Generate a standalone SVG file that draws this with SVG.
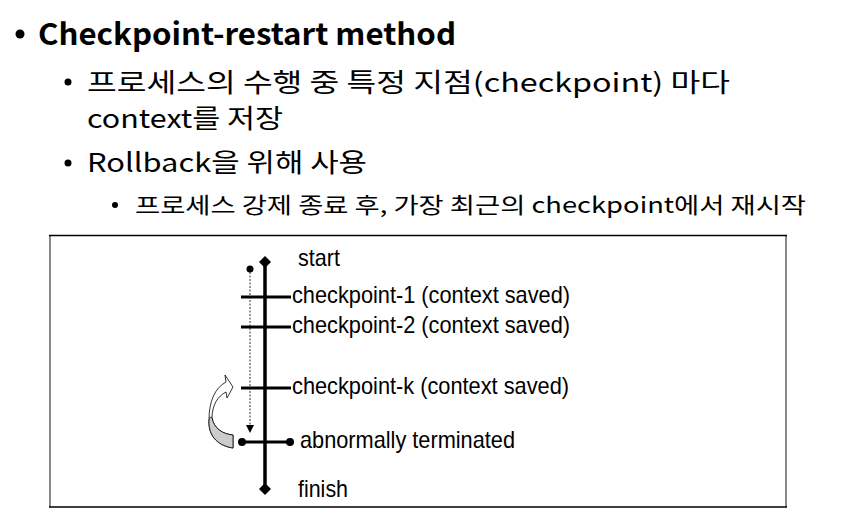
<svg xmlns="http://www.w3.org/2000/svg" width="851" height="515" viewBox="0 0 851 515">
  <style>
    .kr { font-family: "Noto Sans CJK KR", "Open Sans", sans-serif; fill: #000; }
    .lbl { font-family: "Liberation Sans", Arial, sans-serif; font-size: 24px; fill: #000; }
    .tl { stroke: #000; stroke-width: 3.5; fill: none; }
    .tick { stroke: #000; stroke-width: 3; }
    .dot { fill: #000; }
  </style>

  <rect width="851" height="515" fill="#fff"/>

  <!-- bullet text -->
  <g id="bullets">
    <circle cx="20" cy="34" r="4.5" class="dot"/>
    <text x="38" y="45" class="kr" font-size="30" font-weight="bold" textLength="418" lengthAdjust="spacingAndGlyphs">Checkpoint-restart method</text>

    <circle cx="68" cy="82" r="3.5" class="dot"/>
    <text x="87" y="92" class="kr" font-size="26" textLength="643" lengthAdjust="spacingAndGlyphs">프로세스의 수행 중 특정 지점(checkpoint) 마다</text>
    <text x="87" y="128" class="kr" font-size="26" textLength="196" lengthAdjust="spacingAndGlyphs">context를 저장</text>

    <circle cx="68" cy="163" r="3.5" class="dot"/>
    <text x="87" y="172" class="kr" font-size="26" textLength="280" lengthAdjust="spacingAndGlyphs">Rollback을 위해 사용</text>

    <circle cx="115" cy="205" r="3" class="dot"/>
    <text x="135" y="213" class="kr" font-size="22" textLength="671" lengthAdjust="spacingAndGlyphs">프로세스 강제 종료 후, 가장 최근의 checkpoint에서 재시작</text>
  </g>

  <!-- diagram frame -->
  <g id="frame">
    <line x1="50" y1="236" x2="50" y2="507" stroke="#888" stroke-width="2"/>
    <line x1="786" y1="236" x2="786" y2="507" stroke="#888" stroke-width="2"/>
    <line x1="49" y1="235.5" x2="787" y2="235.5" stroke="#000" stroke-width="1.5"/>
    <line x1="49" y1="507" x2="787" y2="507" stroke="#000" stroke-width="1.5"/>
  </g>

  <!-- timeline connectors -->
  <g id="connectors">
    <line x1="265" y1="262" x2="265" y2="489" class="tl"/>
    <line x1="250" y1="272" x2="250" y2="427" stroke="#555" stroke-width="1.2" stroke-dasharray="2,1.5"/>
    <path d="M246,425 L254,425 L250,433 Z" fill="#000"/>
    <line x1="241" y1="297" x2="291" y2="297" class="tick"/>
    <line x1="241" y1="327" x2="291" y2="327" class="tick"/>
    <line x1="241" y1="388" x2="291" y2="388" class="tick"/>
    <line x1="242" y1="442" x2="290" y2="442" class="tick"/>
  </g>

  <!-- timeline nodes -->
  <g id="start">
    <path d="M265,256 L271,262 L265,268 L259,262 Z" class="dot"/>
    <circle cx="250" cy="269" r="3.5" class="dot"/>
    <text x="298" y="266" class="lbl" textLength="42" lengthAdjust="spacingAndGlyphs">start</text>
  </g>
  <g id="checkpoint-1">
    <text x="292" y="303" class="lbl" textLength="278" lengthAdjust="spacingAndGlyphs">checkpoint-1 (context saved)</text>
  </g>
  <g id="checkpoint-2">
    <text x="292" y="333" class="lbl" textLength="278" lengthAdjust="spacingAndGlyphs">checkpoint-2 (context saved)</text>
  </g>
  <g id="checkpoint-k">
    <text x="292" y="394" class="lbl" textLength="277" lengthAdjust="spacingAndGlyphs">checkpoint-k (context saved)</text>
  </g>
  <g id="terminated">
    <circle cx="242" cy="442" r="4" class="dot"/>
    <circle cx="290" cy="442" r="4" class="dot"/>
    <text x="300" y="448" class="lbl" textLength="215" lengthAdjust="spacingAndGlyphs">abnormally terminated</text>
  </g>
  <g id="finish">
    <path d="M265,483 L271,489 L265,495 L259,489 Z" class="dot"/>
    <text x="298" y="497" class="lbl" textLength="50" lengthAdjust="spacingAndGlyphs">finish</text>
  </g>

  <!-- rollback curved arrow -->
  <g id="rollback">
    <path d="M233,448 C220,446 208,438 209,420 C209,401 215,388 226,382 L225,375 L233,387 L227,398 L226,392 C218,396 212,405 212,418 C214,428 222,434 233,435 Z" fill="#fff" stroke="#000" stroke-width="0.8"/>
    <path d="M233,435 L233,448 C220,446 208,438 209,420 C210,417 211,416 212,418 C214,428 222,434 233,435 Z" fill="#ccc" stroke="#000" stroke-width="0.8"/>
  </g>
</svg>
